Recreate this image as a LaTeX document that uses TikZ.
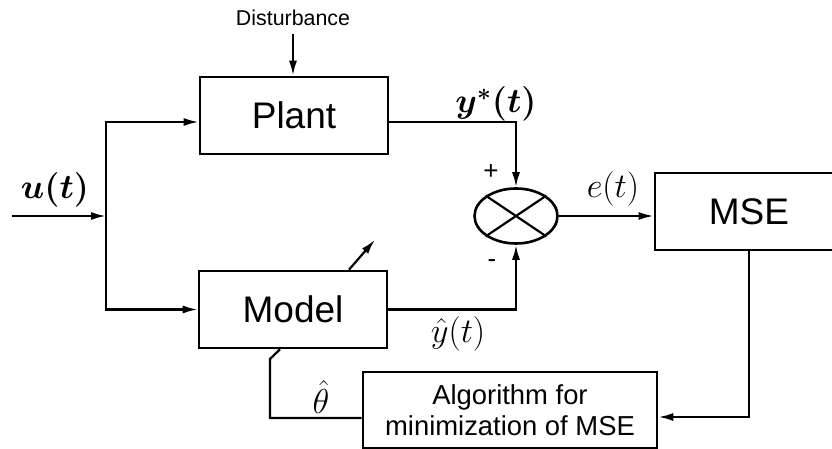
\documentclass[tikz,border=0pt]{standalone}
\usepackage{fontspec}
\setmainfont{Liberation Sans}
\usepackage{amsmath}
\usetikzlibrary{shapes.geometric, arrows.meta, positioning, calc}

\begin{document}
\begin{tikzpicture}[
    x=0.5pt, y=-0.5pt,
    block/.style={rectangle, draw, line width=1.3pt, minimum width=94pt, minimum height=38.5pt, font=\fontsize{18.5}{21}\selectfont},
    algblock/.style={rectangle, draw, line width=1.3pt, minimum width=147pt, minimum height=38pt, align=center, inner sep=1pt, font=\fontsize{13.7}{15.5}\selectfont},
    sumnode/.style={ellipse, draw, line width=1.3pt, minimum width=41.5pt, minimum height=27.5pt, inner sep=0pt},
    arrow/.style={-{Latex[length=7.5pt,width=4pt]}, line width=1.1pt},
    line/.style={line width=1.1pt},
    sig/.style={font=\fontsize{17.5}{20}\selectfont, inner sep=1pt},
    sign/.style={font=\fontsize{13}{14}\selectfont, inner sep=1pt}
]
    \clip (0,0) rectangle (832,449);

    % Blocks
    \node[block] (plant) at (294,115.5) {Plant};
    \node[block] (model) at (293,309.5) {Model};
    \node[block] (mse) at (749,211.5) {MSE};
    \node[algblock] (algo) at (510,410) {Algorithm for\\minimization of MSE};

    % Comparator
    \node[sumnode] (sum) at (516,216) {};
    \draw[line] (sum.north west) -- (sum.south east);
    \draw[line] (sum.south west) -- (sum.north east);

    % Disturbance
    \node[font=\fontsize{10.7}{12}\selectfont, inner sep=1pt] (dist) at (293,18) {Disturbance};
    \draw[arrow, shorten <=3pt] (dist.south) -- (dist.south |- plant.north);

    % Input u(t)
    \coordinate (in) at (12,216);
    \coordinate (split) at (106,216);
    \node[sig] (ulabel) at (55,190) {$\boldsymbol{u(t)}$};
    \draw[arrow] (in) -- (split);
    \draw[arrow] (split) |- ([yshift=-3.25pt]plant.west);
    \draw[arrow] (split) |- (model.west);

    % Plant and model outputs
    \draw[arrow] ([yshift=-3.25pt]plant.east) -| (sum.north);
    \node[sig] (ystar) at (496,104) {$\boldsymbol{y^{*}(t)}$};
    \node[sign] (plus) at (491,172) {+};
    \draw[arrow] (model.east) -| (sum.south);
    \node[sig] (yhat) at (458,334) {$\hat{y}(t)$};
    \node[sign] (minus) at (492,264) {-};

    % Error
    \draw[arrow] (sum.east) -- (sum.east -| mse.west);
    \node[sig] (elabel) at (613,189) {$e(t)$};

    % Feedback
    \draw[arrow] (mse.south) |- ([yshift=-3.5pt]algo.east);
    \coordinate (thbend) at (270,359);
    \draw[line] ([yshift=-4pt]algo.west) -| (thbend) -- ([xshift=-6.5pt]model.south);
    \node[sig] (theta) at (321,397) {$\hat{\theta}$};

    % Parameter adjustment
    \draw[arrow] ([xshift=28pt]model.north) -- ++(26,-30);

\end{tikzpicture}
\end{document}
